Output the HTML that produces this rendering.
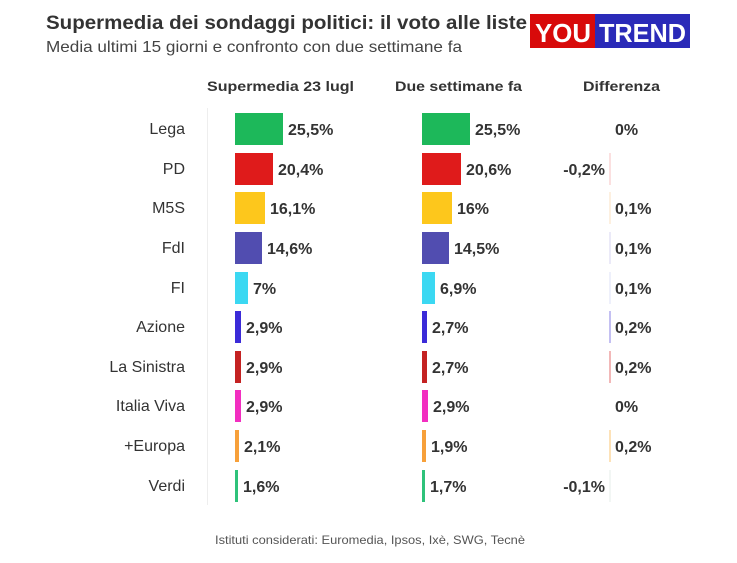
<!DOCTYPE html>
<html><head><meta charset="utf-8"><style>
body{margin:0;background:#fff}
svg{display:block}
text{font-family:"Liberation Sans",sans-serif}
.l{font-size:16px;fill:#333;text-anchor:end}
.v{font-size:16px;font-weight:bold;fill:#333}
.h{font-size:14px;font-weight:bold;fill:#333}
</style></head><body>
<svg width="737" height="563" viewBox="0 0 737 563">
<text x="46" y="29" font-size="19" font-weight="bold" fill="#333" textLength="481" lengthAdjust="spacingAndGlyphs">Supermedia dei sondaggi politici: il voto alle liste</text>
<text x="46" y="52" font-size="16" fill="#444" textLength="416" lengthAdjust="spacingAndGlyphs">Media ultimi 15 giorni e confronto con due settimane fa</text>
<rect x="530" y="14" width="65" height="34" fill="#d80a0a"/>
<rect x="595" y="14" width="95" height="34" fill="#2a2ab8"/>
<text x="535" y="42" font-size="26" font-weight="bold" fill="#fff" textLength="56" lengthAdjust="spacingAndGlyphs">YOU</text>
<text x="599" y="42" font-size="26" font-weight="bold" fill="#fff" textLength="87" lengthAdjust="spacingAndGlyphs">TREND</text>
<text class="h" x="207" y="91" textLength="147" lengthAdjust="spacingAndGlyphs">Supermedia 23 lugl</text>
<text class="h" x="395" y="91" textLength="127" lengthAdjust="spacingAndGlyphs">Due settimane fa</text>
<text class="h" x="583" y="91" textLength="77" lengthAdjust="spacingAndGlyphs">Differenza</text>
<line x1="207.5" y1="108" x2="207.5" y2="505" stroke="#eee"/>
<text x="370" y="544" font-size="12" fill="#555" text-anchor="middle" textLength="310" lengthAdjust="spacingAndGlyphs">Istituti considerati: Euromedia, Ipsos, Ixè, SWG, Tecnè</text>
<g>
<text class="l" x="185" y="134">Lega</text>
<rect x="235" y="113" width="48" height="32" fill="#1db85a"/><text class="v" x="288" y="135">25,5%</text>
<rect x="422" y="113" width="48" height="32" fill="#1db85a"/><text class="v" x="475" y="135">25,5%</text>
<text class="v" x="615" y="135">0%</text>

<text class="l" x="185" y="174">PD</text>
<rect x="235" y="153" width="38" height="32" fill="#df1b1b"/><text class="v" x="278" y="175">20,4%</text>
<rect x="422" y="153" width="39" height="32" fill="#df1b1b"/><text class="v" x="466" y="175">20,6%</text>
<rect x="609" y="153" width="2" height="32" fill="#fbe0e0"/><text class="v" x="605" y="175" text-anchor="end">-0,2%</text>

<text class="l" x="185" y="213">M5S</text>
<rect x="235" y="192" width="30" height="32" fill="#fdc71c"/><text class="v" x="270" y="214">16,1%</text>
<rect x="422" y="192" width="30" height="32" fill="#fdc71c"/><text class="v" x="457" y="214">16%</text>
<rect x="609" y="192" width="2" height="32" fill="#fdf0e0"/><text class="v" x="615" y="214">0,1%</text>

<text class="l" x="185" y="253">FdI</text>
<rect x="235" y="232" width="27" height="32" fill="#514db0"/><text class="v" x="267" y="254">14,6%</text>
<rect x="422" y="232" width="27" height="32" fill="#514db0"/><text class="v" x="454" y="254">14,5%</text>
<rect x="609" y="232" width="2" height="32" fill="#ebeaf8"/><text class="v" x="615" y="254">0,1%</text>

<text class="l" x="185" y="293">FI</text>
<rect x="235" y="272" width="13" height="32" fill="#3bd8f2"/><text class="v" x="253" y="294">7%</text>
<rect x="422" y="272" width="13" height="32" fill="#3bd8f2"/><text class="v" x="440" y="294">6,9%</text>
<rect x="609" y="272" width="2" height="32" fill="#eef0fb"/><text class="v" x="615" y="294">0,1%</text>

<text class="l" x="185" y="332">Azione</text>
<rect x="235" y="311" width="6" height="32" fill="#3b2bd8"/><text class="v" x="246" y="333">2,9%</text>
<rect x="422" y="311" width="5" height="32" fill="#3b2bd8"/><text class="v" x="432" y="333">2,7%</text>
<rect x="609" y="311" width="2" height="32" fill="#c4c0f2"/><text class="v" x="615" y="333">0,2%</text>

<text class="l" x="185" y="372">La Sinistra</text>
<rect x="235" y="351" width="6" height="32" fill="#c42222"/><text class="v" x="246" y="373">2,9%</text>
<rect x="422" y="351" width="5" height="32" fill="#c42222"/><text class="v" x="432" y="373">2,7%</text>
<rect x="609" y="351" width="2" height="32" fill="#f2b8b8"/><text class="v" x="615" y="373">0,2%</text>

<text class="l" x="185" y="411">Italia Viva</text>
<rect x="235" y="390" width="6" height="32" fill="#f22ec0"/><text class="v" x="246" y="412">2,9%</text>
<rect x="422" y="390" width="6" height="32" fill="#f22ec0"/><text class="v" x="433" y="412">2,9%</text>
<text class="v" x="615" y="412">0%</text>

<text class="l" x="185" y="451">+Europa</text>
<rect x="235" y="430" width="4" height="32" fill="#f7a03a"/><text class="v" x="244" y="452">2,1%</text>
<rect x="422" y="430" width="4" height="32" fill="#f7a03a"/><text class="v" x="431" y="452">1,9%</text>
<rect x="609" y="430" width="2" height="32" fill="#fde2b8"/><text class="v" x="615" y="452">0,2%</text>

<text class="l" x="185" y="491">Verdi</text>
<rect x="235" y="470" width="3" height="32" fill="#2ec27a"/><text class="v" x="243" y="492">1,6%</text>
<rect x="422" y="470" width="3" height="32" fill="#2ec27a"/><text class="v" x="430" y="492">1,7%</text>
<rect x="609" y="470" width="2" height="32" fill="#f2f6f4"/><text class="v" x="605" y="492" text-anchor="end">-0,1%</text>
</g>
</svg>
</body></html>
